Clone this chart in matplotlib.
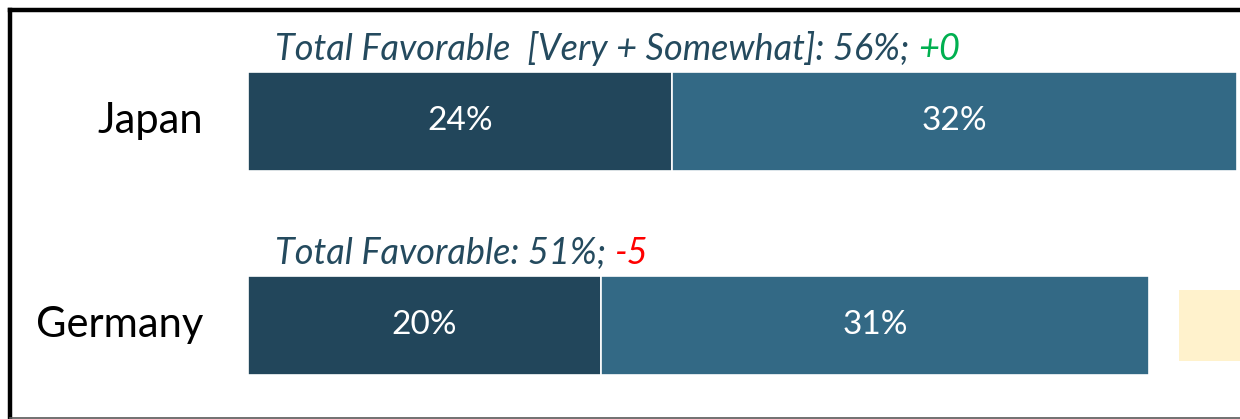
import matplotlib
matplotlib.use("Agg")
import matplotlib.pyplot as plt
from matplotlib.lines import Line2D

countries = ["Japan", "Germany"]
very = [24, 20]
somewhat = [32, 31]
totals = [56, 51]
changes = ["+0", "-5"]
change_colors = ["#00B050", "#FF0000"]
title_prefix = ["Total Favorable  [Very + Somewhat]: ", "Total Favorable: "]
other_start = [None, 52.7]  # partially visible next segment (Germany)

FONT = "Lato"
DARK = "#22465B"
LIGHT = "#336985"
TEXTC = "#244A5E"
YELLOW = "#FFF2CC"

W, H = 1240, 419
fig = plt.figure(figsize=(W / 100, H / 100), dpi=100)
px = 17.66  # pixels per percentage point
ax = fig.add_axes([248 / W, 0, (W - 248) / W, 1])
ax.set_xlim(0, (W - 248) / px)
ax.set_ylim(419 / 204 - 121 / 204, -121 / 204)
ax.axis("off")

bar_h = 99 / 204
for i, c in enumerate(countries):
    ax.barh(i, very[i], left=0, height=bar_h, color=DARK, edgecolor="white", linewidth=1.2)
    ax.barh(i, somewhat[i], left=very[i], height=bar_h, color=LIGHT, edgecolor="white", linewidth=1.2)
    if other_start[i] is not None:
        ax.barh(i, 10, left=other_start[i], height=71 / 204, color=YELLOW, linewidth=0)
    ax.text(very[i] / 2, i, f"{very[i]}%", color="white", ha="center", va="center",
            fontsize=24, family=FONT)
    ax.text(very[i] + somewhat[i] / 2, i, f"{somewhat[i]}%", color="white", ha="center",
            va="center", fontsize=24, family=FONT)
    # country label
    fig.text(203 / W, 1 - (121 + 204 * i) / H, c, ha="right", va="center",
             fontsize=30, family=FONT, color="black")
    # title line
    t1 = ax.text(1.55, i - 0.27, f"{title_prefix[i]}{totals[i]}%; ", color=TEXTC,
                 fontsize=26, family=FONT, style="italic", ha="left", va="bottom")
    ax.annotate(changes[i], xy=(1, 0), xycoords=t1, color=change_colors[i],
                fontsize=26, family=FONT, style="italic", ha="left", va="bottom")

# frame
fig.add_artist(Line2D([10 / W, 1], [1 - 10 / H, 1 - 10 / H], color="black", lw=3.2,
                      transform=fig.transFigure, solid_capstyle="projecting"))
fig.add_artist(Line2D([10 / W, 10 / W], [1 - 10 / H, 0], color="black", lw=3.2,
                      transform=fig.transFigure))
fig.add_artist(Line2D([10 / W, 1], [1.5 / H, 1.5 / H], color="#595959", lw=1.2,
                      transform=fig.transFigure))

fig.savefig("out.png", dpi=100)
